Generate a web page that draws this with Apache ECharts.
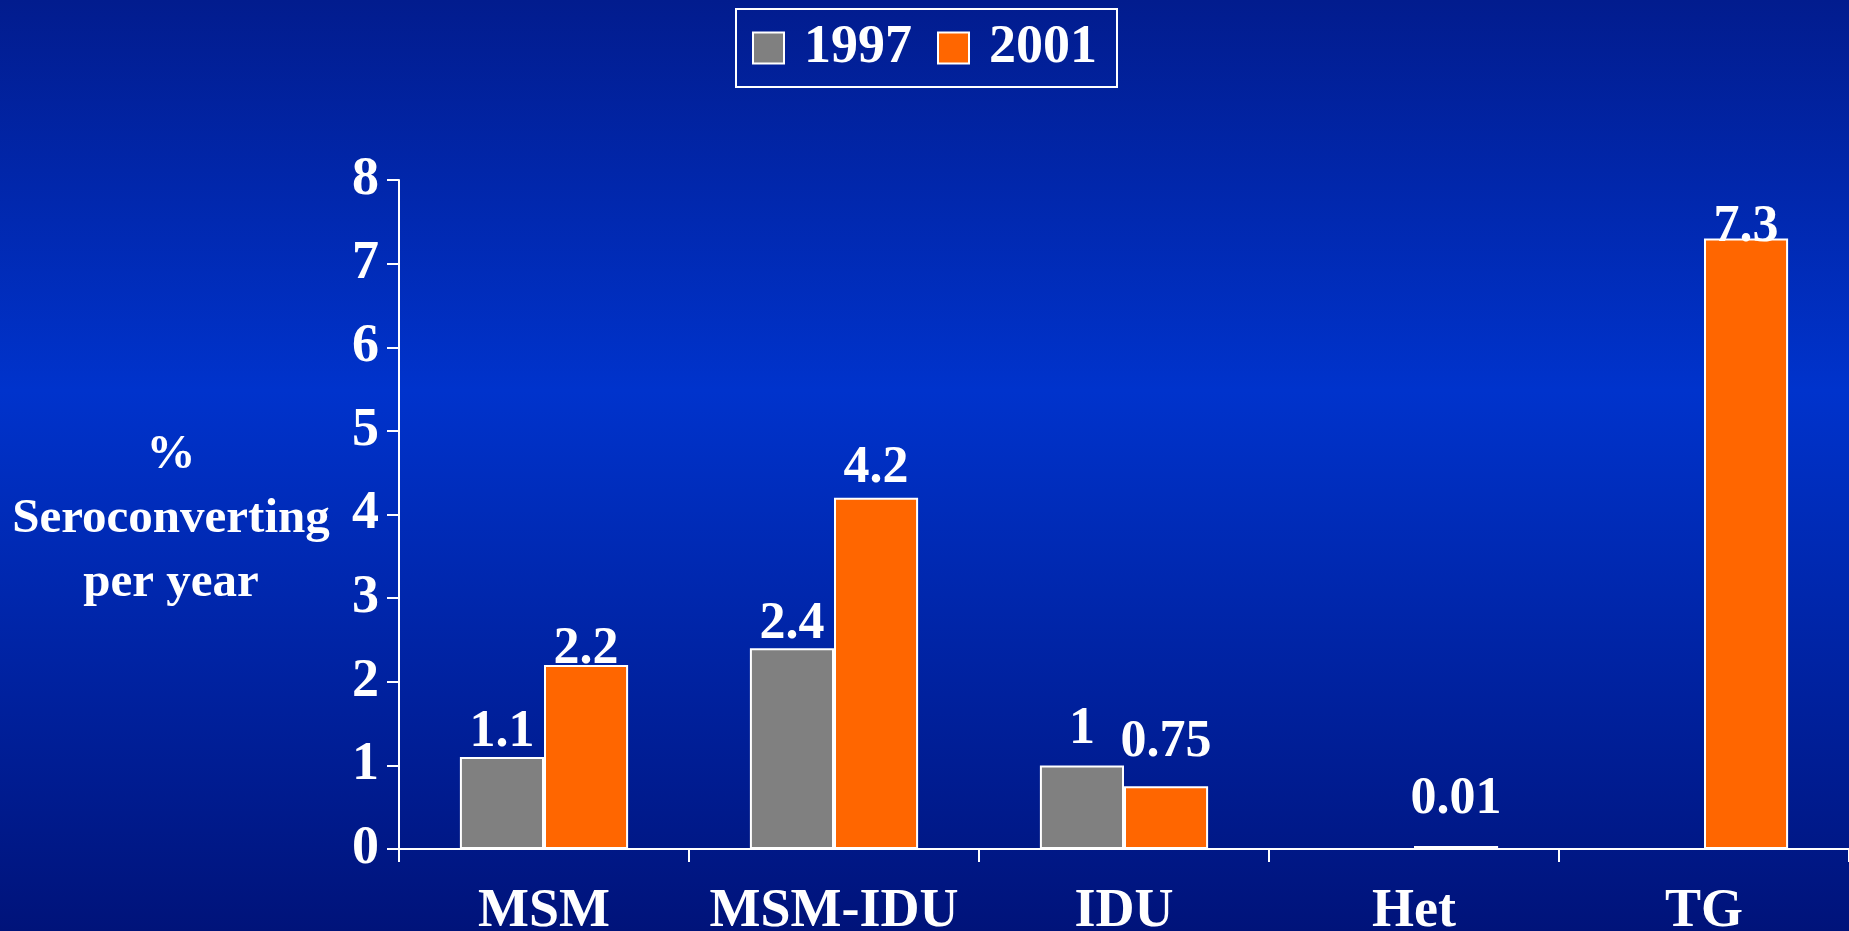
<!DOCTYPE html>
<html>
<head>
<meta charset="utf-8">
<title>Seroconversion</title>
<script src="https://cdn.jsdelivr.net/npm/echarts@6/dist/echarts.min.js"></script>
<style>
  html, body { margin: 0; padding: 0; }
  #chart { width: 1849px; height: 931px; }
</style>
</head>
<body>
<div id="chart"></div>
<script>
  // data
  var categories = ['MSM', 'MSM-IDU', 'IDU', 'Het', 'TG'];
  var years = ['1997', '2001'];
  var values1997 = [1.1, 2.4, 1, null, null];
  var values2001 = [2.2, 4.2, 0.75, 0.01, 7.3];
  var yTicks = [0, 1, 2, 3, 4, 5, 6, 7, 8];

  var font = '"Liberation Serif", "Times New Roman", serif';

  // small nudges so the labels sit like on the slide
  var lift1997 = [-2, -2, 10, 0, 0];
  var lift2001 = [-11, 3, 18, 20, -15];

  function toItems(arr, lift) {
    return arr.map(function (v, i) {
      if (v === null) return '-';
      return { value: v, label: { distance: lift[i] } };
    });
  }

  var chart = echarts.init(document.getElementById('chart'));
  chart.setOption({
    backgroundColor: {
      type: 'linear', x: 0, y: 0, x2: 0, y2: 1,
      colorStops: [
        { offset: 0, color: '#021c8e' },
        { offset: 0.42, color: '#0033cc' },
        { offset: 1, color: '#00137a' }
      ]
    },
    textStyle: { fontFamily: font },
    legend: {
      data: years,
      icon: 'rect',
      top: 9,
      left: 'center',
      itemWidth: 31,
      itemHeight: 31,
      itemGap: 25,
      padding: [12, 20, 12, 16],
      borderColor: '#ffffff',
      borderWidth: 2,
      textStyle: {
        color: '#ffffff',
        fontFamily: font,
        fontWeight: 'bold',
        fontSize: 54,
        padding: [0, 0, 0, 15]
      }
    },
    graphic: [{
      type: 'text',
      x: 171,
      y: 519,
      style: {
        text: '%\nSeroconverting\nper year',
        align: 'center',
        verticalAlign: 'middle',
        fill: '#ffffff',
        font: 'bold 49px ' + font,
        lineHeight: 64
      }
    }],
    grid: {
      left: 399,
      right: 0,
      top: 180,
      bottom: 82,
      containLabel: false,
      outerBoundsMode: 'none'
    },
    xAxis: {
      type: 'category',
      data: categories,
      axisLine: { lineStyle: { color: '#ffffff', width: 2 } },
      axisTick: { show: true, length: 13, lineStyle: { color: '#ffffff', width: 2 } },
      axisLabel: {
        interval: 0,
        color: '#ffffff',
        fontFamily: font,
        fontWeight: 'bold',
        fontSize: 54,
        margin: 36
      }
    },
    yAxis: {
      type: 'value',
      min: yTicks[0],
      max: yTicks[yTicks.length - 1],
      interval: 1,
      axisLine: { show: true, lineStyle: { color: '#ffffff', width: 2 } },
      axisTick: { show: true, length: 12, lineStyle: { color: '#ffffff', width: 2 } },
      splitLine: { show: false },
      axisLabel: {
        color: '#ffffff',
        fontFamily: font,
        fontWeight: 'bold',
        fontSize: 54,
        margin: 20
      }
    },
    series: [
      {
        name: years[0],
        type: 'bar',
        data: toItems(values1997, lift1997),
        barGap: '0%',
        barCategoryGap: '42%',
        itemStyle: { color: '#808080', borderColor: '#ffffff', borderWidth: 2 },
        label: {
          show: true,
          position: 'top',
          color: '#ffffff',
          fontFamily: font,
          fontWeight: 'bold',
          fontSize: 52
        }
      },
      {
        name: years[1],
        type: 'bar',
        data: toItems(values2001, lift2001),
        barGap: '0%',
        barCategoryGap: '42%',
        barMinHeight: 3,
        itemStyle: { color: '#ff6600', borderColor: '#ffffff', borderWidth: 2 },
        label: {
          show: true,
          position: 'top',
          color: '#ffffff',
          fontFamily: font,
          fontWeight: 'bold',
          fontSize: 52
        }
      }
    ]
  });
</script>
</body>
</html>
